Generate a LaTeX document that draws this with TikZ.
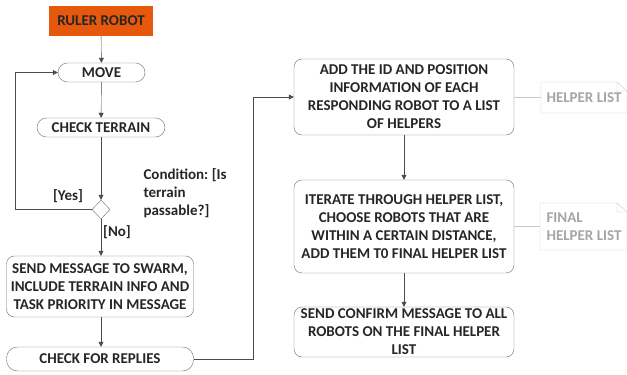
\documentclass[tikz,border=0pt]{standalone}
\usepackage{fontspec}
\setmainfont{Carlito}
\frenchspacing
\usetikzlibrary{arrows.meta,shapes.geometric}
\definecolor{rulerorange}{RGB}{230,88,12}
\definecolor{edgegray}{RGB}{110,110,110}
\definecolor{notegray}{RGB}{200,200,200}
\definecolor{notetext}{RGB}{165,165,165}
\tikzset{
  box/.style={draw=edgegray, rounded corners=8pt, align=center, inner sep=2pt,
    font=\bfseries\fontsize{15}{18}\selectfont, text=black!85},
  pill/.style={box, rounded corners=9.5pt, minimum height=19pt},
  flow/.style={draw=black!70, -{Triangle[length=5pt,width=5pt]}},
  guard/.style={font=\bfseries\fontsize{15}{18}\selectfont, text=black!85},
  notebox/.style={font=\bfseries\fontsize{15}{18}\selectfont, text=notetext, align=left, anchor=west}
}
\begin{document}
\begin{tikzpicture}[x=1pt,y=-1pt]
\useasboundingbox (0,0) rectangle (627,375);
% start
\node[fill=rulerorange, minimum width=104pt, minimum height=30pt,
  font=\bfseries\fontsize{15}{18}\selectfont, text=black!85] (ruler) at (101,20.5) {RULER ROBOT};
% left column
\node[pill, minimum width=87pt] (move) at (101.5,72.5) {MOVE};
\node[pill, minimum width=128pt] (check) at (101,127.5) {CHECK TERRAIN};
\node[draw=edgegray, diamond, minimum width=18pt, minimum height=19pt, inner sep=0pt] (dia) at (101,209.5) {};
\node[box, minimum width=187pt, minimum height=61pt] (send) at (100,286.5)
  {SEND MESSAGE TO SWARM,\\INCLUDE TERRAIN INFO AND\\TASK PRIORITY IN MESSAGE};
\node[pill, rounded corners=11pt, minimum width=187pt, minimum height=24pt] (replies) at (100,359) {CHECK FOR REPLIES};
% guards
\node[guard] (yes) at (68,196) {[Yes]};
\node[guard] (no) at (117,232) {[No]};
\node[guard, align=left, anchor=north west] (cond) at (140,165) {Condition: [Is\\terrain\\passable?]};
% right column
\node[box, minimum width=220pt, minimum height=76pt] (add) at (404,97)
  {ADD THE ID AND POSITION\\INFORMATION OF EACH\\RESPONDING ROBOT TO A LIST\\OF HELPERS};
\node[box, minimum width=220pt, minimum height=93pt] (iter) at (404,226.5)
  {ITERATE THROUGH HELPER LIST,\\CHOOSE ROBOTS THAT ARE\\WITHIN A CERTAIN DISTANCE,\\ADD THEM T0 FINAL HELPER LIST};
\node[box, minimum width=220pt, minimum height=50pt] (confirm) at (404,332)
  {SEND CONFIRM MESSAGE TO ALL\\ROBOTS ON THE FINAL HELPER\\LIST};
% notes
\node[notebox] (helpers) at (543,97.5) {HELPER LIST};
\node[notebox] (final) at (543,226.5) {FINAL\\HELPER LIST};
\draw[notegray] (541,82) -- (617,82) -- (627,91) -- (627,113) -- (541,113) -- cycle (617,82) -- (617,91) -- (627,91);
\draw[notegray] (540,203) -- (617,203) -- (627,212) -- (627,250) -- (540,250) -- cycle (617,203) -- (617,212) -- (627,212);
\draw[notegray] (add.east) -- (541,97);
\draw[notegray] (iter.east) -- (540,226.5);
% connectors
\draw[flow] (ruler) -- (move);
\draw[flow] (move) -- (check);
\draw[flow] (check.south -| dia.north) -- (dia.north);
\coordinate (loop) at (15,209.5);
\draw[flow] (dia.west) -- (loop) |- (move.west);
\draw[flow] (dia.south) -- (dia.south |- send.north);
\draw[flow] (send.south -| dia.south) -- (replies.north -| dia.south);
\coordinate (turn) at (253,359);
\draw[flow] (replies.east) -- (turn) |- (add.west);
\draw[flow] (add) -- (iter);
\draw[flow] (iter) -- (confirm);
\end{tikzpicture}
\end{document}
